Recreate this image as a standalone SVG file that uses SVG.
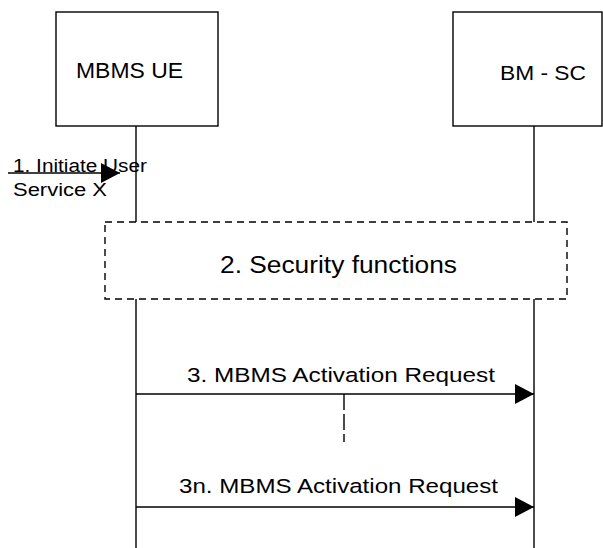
<svg xmlns="http://www.w3.org/2000/svg" width="603" height="548" viewBox="0 0 603 548">
<defs>
<style>
.box{fill:#fff;stroke:#000;stroke-width:1.4}
.life{stroke:#000;stroke-width:1.4;fill:none}
.msg{stroke:#000;stroke-width:1.6;fill:none}
.dash{stroke:#000;stroke-width:1.4;fill:none;stroke-dasharray:7 5}
text{font-family:"Liberation Sans",Arial,sans-serif;fill:#000}
</style>
<marker id="ah" viewBox="0 0 19 20" refX="19" refY="10" markerWidth="19" markerHeight="20" markerUnits="userSpaceOnUse" orient="auto">
<path d="M0,0 L19,10 L0,20 Z" fill="#000"/>
</marker>
</defs>
<rect width="603" height="548" fill="#fff"/>
<g id="ue">
<rect class="box" x="56" y="12" width="162" height="114"/>
<text x="76" y="78" font-size="22" textLength="107" lengthAdjust="spacingAndGlyphs">MBMS UE</text>
</g>
<g id="bmsc">
<rect class="box" x="453" y="12" width="149" height="114"/>
<text x="500" y="80" font-size="21" textLength="86" lengthAdjust="spacingAndGlyphs">BM - SC</text>
</g>
<g id="security">
<rect class="dash" x="105" y="222" width="462" height="77"/>
<text x="220" y="273" font-size="23" textLength="237" lengthAdjust="spacingAndGlyphs">2. Security functions</text>
</g>
<g id="connectors">
<line class="life" x1="136" y1="126" x2="136" y2="222"/>
<line class="life" x1="136" y1="299" x2="136" y2="548"/>
<line class="life" x1="534" y1="126" x2="534" y2="222"/>
<line class="life" x1="534" y1="299" x2="534" y2="548"/>
<line class="msg" x1="8" y1="173" x2="120" y2="173" marker-end="url(#ah)"/>
<line class="msg" x1="136" y1="394" x2="534" y2="394" marker-end="url(#ah)"/>
<line class="msg" x1="136" y1="507" x2="534" y2="507" marker-end="url(#ah)"/>
<line x1="344" y1="394" x2="344" y2="442" stroke="#000" stroke-width="1.4" stroke-dasharray="16 4"/>
</g>
<g id="labels">
<text x="13" y="172" font-size="18" textLength="134" lengthAdjust="spacingAndGlyphs">1. Initiate User</text>
<text x="13" y="196" font-size="18" textLength="94" lengthAdjust="spacingAndGlyphs">Service X</text>
<text x="187" y="382" font-size="20.5" textLength="308" lengthAdjust="spacingAndGlyphs">3. MBMS Activation Request</text>
<text x="179" y="493" font-size="20.5" textLength="319" lengthAdjust="spacingAndGlyphs">3n. MBMS Activation Request</text>
</g>
</svg>
